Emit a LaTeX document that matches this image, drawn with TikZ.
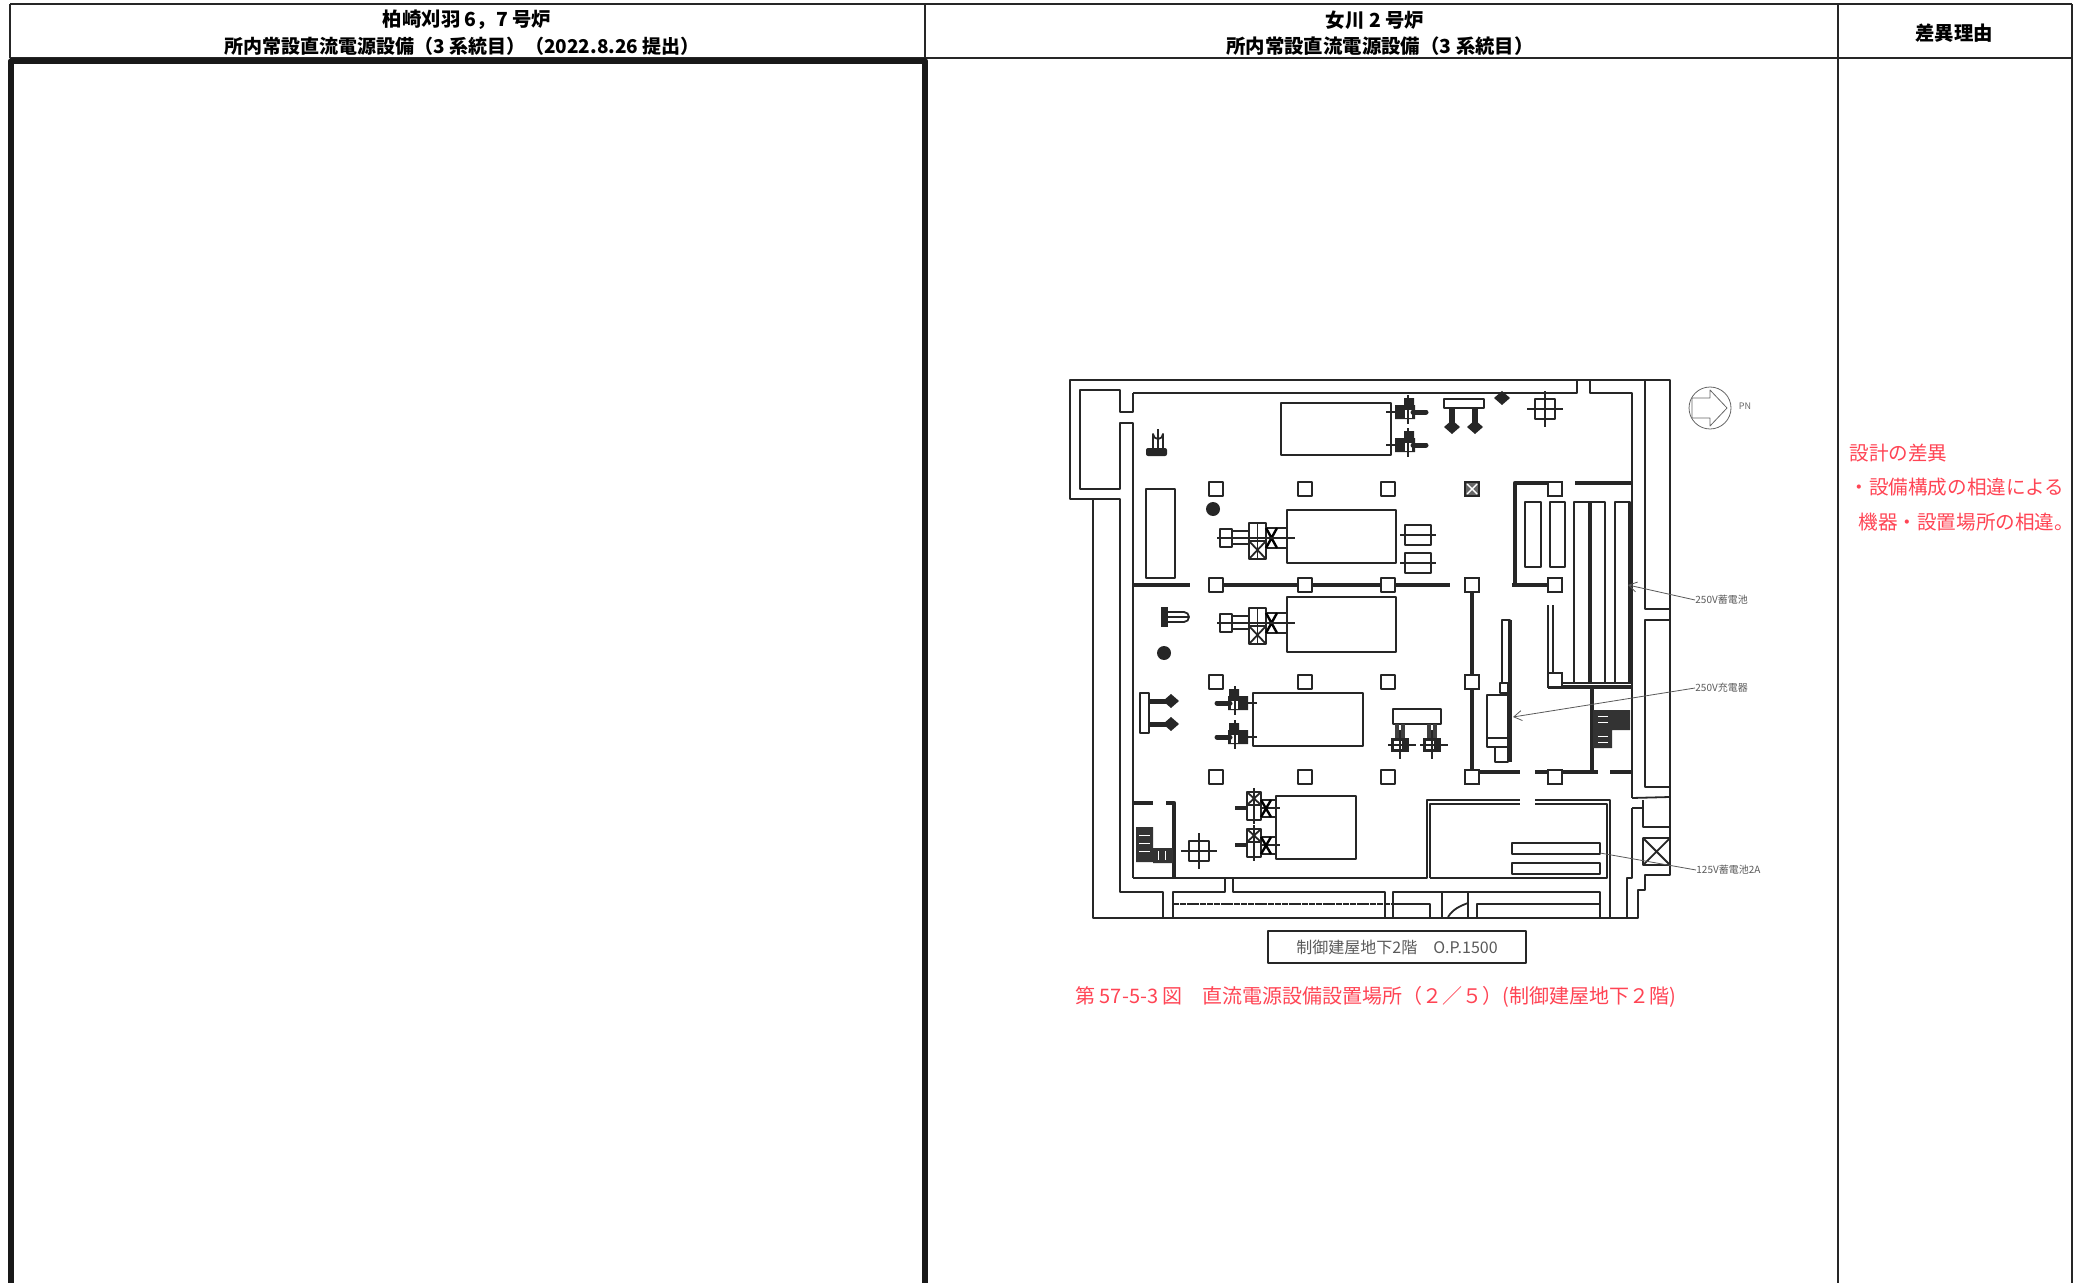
\documentclass[tikz,border=0pt]{standalone}
\usepackage{fontspec}
\setmainfont{Noto Sans CJK JP}
\usetikzlibrary{arrows.meta}
\definecolor{notered}{HTML}{FF4454}
\tikzset{
 rule/.style={line width=0.55pt,black!85},
 heavyrule/.style={line width=2.8pt,black!90},
 wall/.style={line width=0.9pt,black!85},
 thickwall/.style={line width=2.2pt,black!85},
 head/.style={font=\fontsize{9.7}{11}\selectfont\bfseries,inner sep=0pt},
 redtext/.style={font=\fontsize{9.8}{12}\selectfont,text=notered,inner sep=0pt},
 tag/.style={font=\fontsize{5}{6}\selectfont,text=black!65,inner sep=0pt,anchor=west},
 leader/.style={line width=0.4pt,black!65},
}
\newcommand{\pillar}[2]{\draw[wall,fill=white] (#1-7,#2-7) rectangle (#1+7,#2+7);}
\newcommand{\crossbox}[2]{
 \draw[wall] (#1-10,#2-10) rectangle (#1+10,#2+10);
 \draw[wall] (#1-18,#2)--(#1+18,#2) (#1,#2-18)--(#1,#2+18);}
\newcommand{\pumpunit}[1]{
 \begin{scope}[shift={(0,#1)}]
 \draw[wall] (1220,-9) rectangle (1232,9) (1232,-7) rectangle (1249,6);
 \draw[wall] (1249,-15) rectangle (1266,21) (1257.5,-15)--(1257.5,21);
 \draw[wall] (1249,3)--(1266,3) (1249,3)--(1266,21) (1249,21)--(1266,3);
 \draw[wall] (1266,-10) rectangle (1287,10);
 \draw[line width=1.2pt] (1266,-10)--(1277,10) (1266,10)--(1277,-10);
 \draw[wall] (1217,0)--(1295,0);
 \end{scope}}
% dir = 1 points right, dir = -1 points left
\newcommand{\valveset}[3]{
 \begin{scope}[shift={(#1,#2)},xscale=#3]
 \fill[black!85] (-13,-7) rectangle (7,7) (-4,-14) rectangle (6,0);
 \fill[white] (-3,-2) rectangle (4,6);
 \draw[line width=2.5pt,line cap=round,black!85] (5,0)--(18,0);
 \draw[wall] (-22,0)--(-10,0) (0,-17)--(0,12);
 \end{scope}}
\newcommand{\largevalve}[2]{
 \begin{scope}[shift={(#1,#2)}]
 \draw[wall] (-6,-16) rectangle (8,12) (-6,-3)--(8,-3) (1,-20)--(1,16);
 \draw[wall] (-6,-16)--(8,-3) (8,-16)--(-6,-3);
 \draw[wall] (8,-8) rectangle (23,9) (8,0)--(27,0);
 \draw[line width=1.2pt] (8,-8)--(18,9) (8,9)--(18,-8);
 \draw[line width=1.6pt,black!85] (-18,0)--(-6,0);
 \end{scope}}
\newcommand{\legdiamond}[2]{
 \fill[black!85] (#1-8,#2)--(#1,#2-7)--(#1+8,#2)--(#1,#2+7)--cycle;}
\begin{document}
\begin{tikzpicture}[x=0.5pt,y=-0.5pt,line join=round,>={Straight Barb[length=4pt,width=5pt]}]
\useasboundingbox (0,0) rectangle (2081,1283);
% table
\draw[rule] (10,4)--(2072,4) (10,58)--(2072,58);
\draw[rule] (10,4)--(10,58) (925,4)--(925,1283) (1838,4)--(1838,1283) (2072,4)--(2072,1283);
\draw[heavyrule] (11,1283)--(11,61)--(925,61)--(925,1283);
\node[head] (kkname) at (467,20) {柏崎刈羽 6，7 号炉};
\node[head,font=\fontsize{9.5}{11}\selectfont\bfseries] (kktitle) at (462,46) {所内常設直流電源設備（3 系統目）（2022.8.26 提出）};
\node[head] (onname) at (1375,20) {女川 2 号炉};
\node[head] (ontitle) at (1380,46) {所内常設直流電源設備（3 系統目）};
\node[head] (reason) at (1954,33) {差異理由};
\node[redtext,anchor=west] (rone) at (1849,453) {設計の差異};
\node[redtext,anchor=west] (rtwo) at (1849,487) {・設備構成の相違による};
\node[redtext,anchor=west] (rthree) at (1858,522) {機器・設置場所の相違。};
% outer walls
\draw[wall] (1133,393)--(1577,393)--(1577,380) (1590,380)--(1590,393)--(1632,393)--(1632,798);
\draw[wall] (1093,918)--(1093,499)--(1070,499)--(1070,380)--(1670,380)--(1670,875)--(1645,875)--(1645,890)--(1638,890)--(1638,918)--cycle;
\draw[wall] (1645,380)--(1645,609)--(1670,609) (1670,620)--(1645,620)--(1645,787)--(1670,787);
\draw[wall] (1632,798)--(1670,797) (1632,808)--(1643,808) (1643,800)--(1643,827)--(1670,827);
\draw[wall] (1632,808)--(1632,878)--(1627,878)--(1627,918);
\draw[wall] (1643,838) rectangle (1670,865) (1643,838)--(1670,865) (1643,865)--(1670,838);
\draw[wall] (1080,390)--(1120,390)--(1120,412)--(1133,412)--(1133,393);
\draw[wall] (1120,390)--(1080,390)--(1080,489)--(1120,489)--(1120,423)--(1133,423)--(1133,878);
\draw[wall] (1093,499)--(1120,499)--(1120,892)--(1163,892)--(1163,918);
% bottom band
\draw[wall] (1173,918)--(1173,892)--(1225,892)--(1225,878) (1233,878)--(1233,892)--(1385,892)--(1385,918);
\draw[wall] (1393,918)--(1393,892)--(1600,892)--(1600,918);
\draw[wall,dash pattern=on 3pt off 0.4pt] (1173,904)--(1393,904);
\draw[wall] (1393,904)--(1430,904)--(1430,918);
\draw[wall] (1442,892)--(1442,918) (1468,892)--(1468,918) (1477,918)--(1477,904)--(1600,904);
\draw[wall] (1448,917) .. controls (1453,909) and (1460,906) .. (1468,903);
% rooms
\draw[wall] (1133,878)--(1427,878)--(1427,800)--(1520,800) (1535,800)--(1610,800)--(1610,918);
\draw[wall] (1430,878)--(1430,804)--(1520,804) (1535,804)--(1607,804)--(1607,878)--(1430,878);
\draw[thickwall] (1133,585)--(1190,585) (1216,585)--(1450,585) (1472,585)--(1472,777);
\draw[thickwall] (1472,772)--(1520,772) (1535,772)--(1598,772) (1610,772)--(1632,772);
\draw[thickwall] (1515,585)--(1515,483)--(1563,483) (1575,483)--(1632,483) (1512,585)--(1555,585);
\draw[thickwall] (1592,687)--(1592,772) (1548,687)--(1632,687);
\draw[wall] (1548,605)--(1548,687) (1553,605)--(1553,675)--(1562,675)--(1562,683)--(1632,683);
\draw[thickwall] (1133,803)--(1153,803) (1166,803)--(1174,803)--(1174,878);
% columns
\foreach \x in {1216,1305,1388}
 \foreach \y in {489,585,682,777}
 \pillar{\x}{\y}
\foreach \y in {585,682,777}
 \pillar{1472}{\y}
\foreach \y in {489,585,680,777}
 \pillar{1555}{\y}
\draw[wall,fill=black!60] (1465,482) rectangle (1479,496);
\draw[white,line width=0.7pt] (1467,484)--(1477,494) (1467,494)--(1477,484);
% tanks
\draw[wall] (1281,403) rectangle (1391,455);
\draw[wall] (1287,510) rectangle (1396,563);
\draw[wall] (1287,597) rectangle (1396,652);
\draw[wall] (1253,693) rectangle (1363,746);
\draw[wall] (1276,796) rectangle (1356,859);
\draw[wall] (1146,489) rectangle (1175,578);
% batteries
\foreach \x/\w in {1525/16,1550/15}
 \draw[wall] (\x,502) rectangle (\x+\w,567);
\foreach \x/\w in {1574/16,1590/15,1615/15}
 \draw[wall] (\x,502) rectangle (\x+\w,683);
\draw[thickwall] (1590,502)--(1590,683) (1630,502)--(1630,683);
\draw[wall] (1512,843) rectangle (1600,854) (1512,863) rectangle (1600,874);
% charger
\draw[wall] (1502,620) rectangle (1510,683) (1500,683) rectangle (1508,693);
\draw[wall] (1487,695) rectangle (1508,738) (1487,738) rectangle (1508,747) (1495,747) rectangle (1508,762);
\draw[thickwall] (1510,620)--(1510,762);
% equipment
\pumpunit{538}
\pumpunit{623}
\valveset{1408}{412}{1}
\valveset{1408}{445}{1}
\valveset{1235}{703}{-1}
\valveset{1235}{737}{-1}
\largevalve{1253}{808}
\largevalve{1253}{845}
\crossbox{1545}{409}
\crossbox{1199}{851}
\draw[wall] (1444,399) rectangle (1484,408);
\draw[line width=3pt,black!85] (1452,408)--(1452,425) (1475,408)--(1475,425);
\legdiamond{1452}{427}
\legdiamond{1475}{427}
\legdiamond{1502}{398}
\draw[wall] (1153,448)--(1153,434) arc[start angle=180,end angle=0,radius=5]--(1163,448) (1158,429)--(1158,448);
\fill[black!85,rounded corners=1pt] (1146,448) rectangle (1167,456);
\fill[black!85] (1213,509) circle[radius=7];
\fill[black!85] (1164,653) circle[radius=7];
\foreach \y in {535,563} {
 \draw[wall] (1405,\y-10) rectangle (1431,\y+10);
 \draw[wall] (1400,\y)--(1436,\y);
}
\fill[black!85] (1161,607) rectangle (1168,627);
\draw[wall] (1168,612)--(1184,612) arc[start angle=-90,end angle=90,radius=5]--(1168,622) (1168,617)--(1188,617);
\draw[wall] (1140,693) rectangle (1149,733);
\foreach \y in {701,724} {
 \draw[line width=2.5pt,black!85] (1149,\y)--(1170,\y);
 \legdiamond{1171}{\y}
}
\draw[wall] (1393,709) rectangle (1441,724);
\foreach \x in {1400,1432} {
 \draw[line width=2pt,black!75] (\x-3,724)--(\x-3,738) (\x+3,724)--(\x+3,738);
 \fill[black!85] (\x-9,738) rectangle (\x+9,752);
 \fill[white] (\x-6,741) rectangle (\x+2,749);
 \draw[wall] (\x-12,745)--(\x+16,745) (\x,730)--(\x,759);
}
% dark plant
\fill[black!80] (1136,827) rectangle (1153,862) (1153,848) rectangle (1173,863);
\fill[black!80] (1593,710) rectangle (1630,730) (1593,730) rectangle (1612,748);
\foreach \y in {835,843,851}
 \draw[white,line width=0.5pt] (1139,\y)--(1150,\y);
\foreach \x in {1158,1165}
 \draw[white,line width=0.5pt] (\x,851)--(\x,860);
\foreach \y in {716,722,736,742}
 \draw[white,line width=0.5pt] (1598,\y)--(1608,\y);
% north mark
\draw[line width=0.4pt,black!60] (1710,408) circle[radius=21];
\draw[line width=0.4pt,black!60] (1692,398)--(1710,398)--(1710,390)--(1727,408)--(1710,426)--(1710,418)--(1692,418)--cycle;
\node[font=\fontsize{4.5}{5}\selectfont,text=black!60,inner sep=0pt] (pn) at (1745,406) {PN};
% leaders
\coordinate (batt250) at (1628,585);
\coordinate (chrg250) at (1513,717);
\coordinate (batt125) at (1600,853);
\node[tag] (tagbatt) at (1695,600) {250V蓄電池};
\node[tag] (tagchrg) at (1695,688) {250V充電器};
\node[tag] (tagcell) at (1696,870) {125V蓄電池2A};
\draw[leader,->] (tagbatt.west)--(batt250);
\draw[leader,->] (tagchrg.west)--(chrg250);
\draw[leader] (tagcell.west)--(batt125);
% level box and caption
\node[draw=black!85,line width=0.6pt,minimum width=129pt,minimum height=16pt,font=\fontsize{8}{10}\selectfont,text=black!65,inner sep=0pt] (level) at (1397,947) {制御建屋地下2階\quad O.P.1500};
\node[redtext,anchor=west,font=\fontsize{10}{12}\selectfont] (caption) at (1075,997) {第 57-5-3 図　直流電源設備設置場所（２／５）(制御建屋地下２階)};
\end{tikzpicture}
\end{document}
